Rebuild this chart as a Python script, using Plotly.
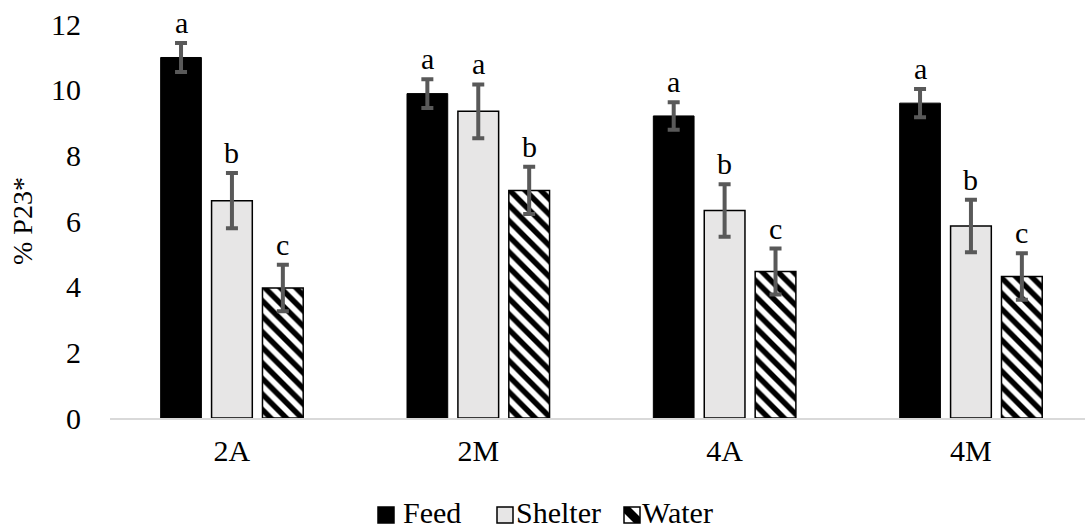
import plotly.graph_objects as go

categories = ["2A", "2M", "4A", "4M"]
feed = [10.98, 9.88, 9.20, 9.59]
feed_err = [0.44, 0.44, 0.42, 0.43]
shelter = [6.62, 9.34, 6.32, 5.85]
shelter_err = [0.84, 0.82, 0.80, 0.80]
water = [3.96, 6.93, 4.46, 4.31]
water_err = [0.71, 0.72, 0.70, 0.71]
feed_letters = ["a", "a", "a", "a"]
shelter_letters = ["b", "a", "b", "b"]
water_letters = ["c", "b", "c", "c"]
y_ticks = [0, 2, 4, 6, 8, 10, 12]
series_names = ["Feed", "Shelter", "Water"]

FONT = "Liberation Serif"
FS = 30
ERR = dict(type="data", color="#595959", thickness=4, width=6)

W, H = 1085, 529
ML, MR, MT, MB = 110, 0, 24, 111
PW, PH = W - ML - MR, H - MT - MB

def px(x):
    return (x - ML) / PW

def py(y):
    return (H - MB - y) / PH

fig = go.Figure()
fig.add_trace(go.Bar(
    name=series_names[0], x=categories, y=feed,
    error_y=dict(array=feed_err, **ERR),
    marker=dict(color="black", line=dict(color="black", width=1)),
))
fig.add_trace(go.Bar(
    name=series_names[1], x=categories, y=shelter,
    error_y=dict(array=shelter_err, **ERR),
    marker=dict(color="#E7E6E6", line=dict(color="black", width=1.5)),
))
fig.add_trace(go.Bar(
    name=series_names[2], x=categories, y=water,
    error_y=dict(array=water_err, **ERR),
    marker=dict(color="white", line=dict(color="black", width=1.5),
                pattern=dict(shape="\\", fgcolor="black", bgcolor="white",
                             fgopacity=1, fillmode="replace",
                             size=11, solidity=0.5)),
))

bargap = 0.38
slot = (1 - bargap) / 3
for j, (vals, errs, letters) in enumerate([(feed, feed_err, feed_letters),
                                           (shelter, shelter_err, shelter_letters),
                                           (water, water_err, water_letters)]):
    for i in range(len(categories)):
        fig.add_annotation(
            x=i + (j - 1) * slot, y=vals[i] + errs[i], xref="x", yref="y",
            text=letters[i], showarrow=False, yanchor="bottom", yshift=2,
            font=dict(family=FONT, size=FS, color="black"),
        )

# Manual legend (serif text, Excel-like swatches)
leg_sq = [(378, 394), (497, 513), (624, 640)]
leg_txt_x = [401, 514, 640]
sq_top, sq_bot = 507, 523
fills = ["black", "#E7E6E6", "white"]
for k, name in enumerate(series_names):
    x0, x1 = leg_sq[k]
    fig.add_shape(type="rect", xref="paper", yref="paper",
                  x0=px(x0), x1=px(x1), y0=py(sq_bot), y1=py(sq_top),
                  fillcolor=fills[k], line=dict(color="black", width=1.5))
    if name == "Water":
        fig.add_shape(type="path", xref="paper", yref="paper",
                      path=f"M {px(x0)},{py(sq_top)} L {px(x0+6)},{py(sq_top)} L {px(x1)},{py(sq_bot-6)} L {px(x1)},{py(sq_bot)} L {px(x1-6)},{py(sq_bot)} L {px(x0)},{py(sq_top+6)} Z",
                      fillcolor="black", line=dict(width=0))
    fig.add_annotation(xref="paper", yref="paper", x=px(leg_txt_x[k]), y=py(512),
                       xanchor="left", yanchor="middle", showarrow=False,
                       text=name, font=dict(family=FONT, size=FS, color="black"))

fig.update_layout(
    width=W, height=H,
    margin=dict(l=ML, r=MR, t=MT, b=MB),
    paper_bgcolor="white", plot_bgcolor="white",
    barmode="group", bargap=bargap, bargroupgap=0.2,
    font=dict(family=FONT, size=FS, color="black"),
    showlegend=False,
)
fig.update_xaxes(
    type="category", range=[-0.495, 3.463],
    showline=True, linecolor="#D9D9D9", linewidth=1.5,
    showgrid=False, ticks="", ticklabelstandoff=5,
    tickfont=dict(family=FONT, size=FS, color="black"),
)
fig.update_yaxes(
    range=[0, 12], tickvals=y_ticks, showgrid=False, zeroline=False,
    showline=False, ticks="", ticklabelstandoff=28,
    tickfont=dict(family=FONT, size=FS, color="black"),
    title=dict(text="% P23*", font=dict(family=FONT, size=28, color="black"), standoff=10),
)

fig.write_html("out.html")
